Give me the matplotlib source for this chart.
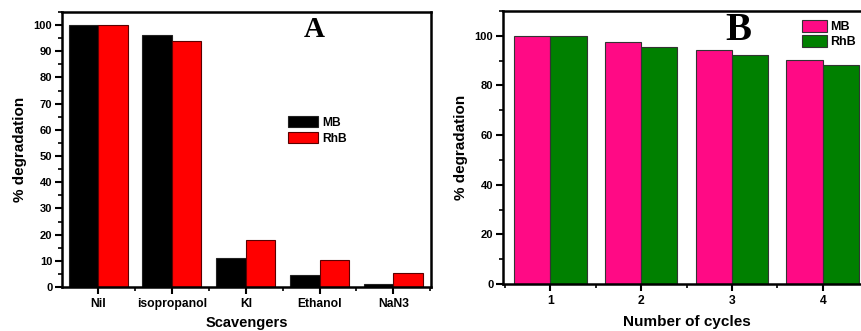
import matplotlib
matplotlib.use("Agg")
import matplotlib.pyplot as plt
import numpy as np
from matplotlib.ticker import MultipleLocator, FixedLocator

plt.rcParams['font.family'] = ['Liberation Sans', 'DejaVu Sans']
plt.rcParams['font.weight'] = 'bold'

# Panel A: scavenger trapping experiment
scavengers = ["Nil", "isopropanol", "KI", "Ethanol", "NaN3"]
scav_mb = [100.0, 96.4, 11.2, 4.7, 1.2]
scav_rhb = [100.0, 93.8, 18.0, 10.2, 5.5]

# Panel B: reusability over cycles
cycles = ["1", "2", "3", "4"]
cyc_mb = [100.0, 97.5, 94.4, 90.3]
cyc_rhb = [100.0, 95.4, 92.2, 88.2]

W, H = 861, 331
fig = plt.figure(figsize=(W / 100, H / 100), dpi=100)


def box(l, r, t, b):
    return [l / W, (H - b) / H, (r - l) / W, (b - t) / H]


def style(ax, xsize=8.5):
    for s in ax.spines.values():
        s.set_linewidth(1.8)
    ax.tick_params(axis='both', which='major', direction='out', length=5, width=1.5,
                   labelsize=8, pad=2)
    ax.tick_params(axis='x', which='major', labelsize=xsize, pad=3)
    ax.tick_params(axis='both', which='minor', direction='out', length=3, width=1.2)
    for lab in ax.get_xticklabels() + ax.get_yticklabels():
        lab.set_fontweight('bold')


bw = 0.4

# ---- Panel A ----
axA = fig.add_axes(box(62, 431, 12, 287))
x = np.arange(len(scavengers))
axA.bar(x - bw / 2, scav_mb, bw, color='black', edgecolor='#222222', linewidth=0.8, label='MB')
axA.bar(x + bw / 2, scav_rhb, bw, color='#FF0000', edgecolor='#5a0000', linewidth=0.8, label='RhB')
axA.set_xlim(-0.49, 4.51)
axA.set_ylim(0, 105)
axA.set_xticks(x)
axA.set_xticklabels(scavengers)
axA.xaxis.set_minor_locator(FixedLocator(np.arange(-0.5, 5, 1.0)))
axA.yaxis.set_major_locator(MultipleLocator(10))
axA.yaxis.set_minor_locator(MultipleLocator(5))
style(axA, 8.7)
axA.set_ylabel('% degradation', fontsize=11, fontweight='bold', labelpad=5)
axA.set_xlabel('Scavengers', fontsize=10.5, fontweight='bold', labelpad=4)
axA.text(0.684, 0.935, 'A', transform=axA.transAxes, fontsize=21, fontweight='bold',
         family='Liberation Serif', ha='center', va='center')
axA.legend(loc='upper left', bbox_to_anchor=(0.6, 0.64), frameon=False, fontsize=8.7,
           handlelength=2.5, handleheight=1.1, handletextpad=0.35, labelspacing=0.25,
           borderaxespad=0)

# ---- Panel B ----
axB = fig.add_axes(box(503, 870, 11, 284))
xb = np.arange(1, len(cycles) + 1)
axB.bar(xb - bw / 2, cyc_mb, bw, color='#FF0A85', edgecolor='#333333', linewidth=0.8, label='MB')
axB.bar(xb + bw / 2, cyc_rhb, bw, color='#008000', edgecolor='#333333', linewidth=0.8, label='RhB')
axB.set_xlim(0.48, 4.52)
axB.set_ylim(0, 110)
axB.set_xticks(xb)
axB.set_xticklabels(cycles)
axB.xaxis.set_minor_locator(FixedLocator(np.arange(0.5, 5, 1.0)))
axB.yaxis.set_major_locator(MultipleLocator(20))
axB.yaxis.set_minor_locator(MultipleLocator(10))
style(axB, 8.7)
axB.set_ylabel('% degradation', fontsize=11, fontweight='bold', labelpad=5)
axB.set_xlabel('Number of cycles', fontsize=11, fontweight='bold', labelpad=6)
axB.text(0.64, 0.93, 'B', transform=axB.transAxes, fontsize=28, fontweight='bold',
         family='Liberation Serif', ha='center', va='center')
axB.legend(loc='upper left', bbox_to_anchor=(0.8, 0.985), frameon=False, fontsize=9,
           handlelength=2.0, handleheight=1.1, handletextpad=0.3, labelspacing=0.15,
           borderaxespad=0)

fig.savefig('out.png', dpi=100)
